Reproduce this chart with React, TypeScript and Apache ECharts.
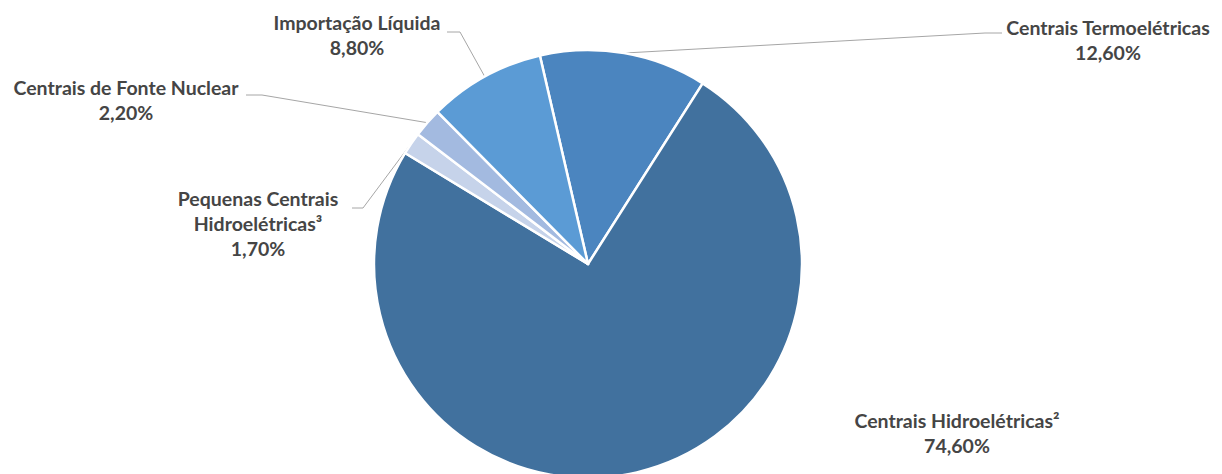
import React, { useEffect, useRef } from "react";
import * as echarts from "echarts";

const categories = [
  "Centrais Termoelétricas",
  "Centrais Hidroelétricas²",
  "Pequenas Centrais\nHidroelétricas³",
  "Centrais de Fonte Nuclear",
  "Importação Líquida",
];
const values = [12.6, 74.6, 1.7, 2.2, 8.8];
const colors = ["#4B85BF", "#41719E", "#C6D3EA", "#A3BAE0", "#5B9BD5"];

// label centres and leader-line end points (label layout only)
const labelPos = [
  [1108, 40],
  [957, 433],
  [258, 223],
  [126, 100],
  [357, 35],
];
const lineEnds: (number[][] | null)[] = [
  [[985, 33], [1002, 33]],
  null,
  [[363, 208], [352, 208]],
  [[262, 95], [246, 95]],
  [[460, 32], [447, 32]],
];

export default function App() {
  const ref = useRef<HTMLDivElement>(null);
  useEffect(() => {
    const chart = echarts.init(ref.current!, undefined, { renderer: "svg" });
    chart.setOption({
      animation: false,
      backgroundColor: "#ffffff",
      series: [
        {
          type: "pie",
          center: [588, 264],
          radius: 214,
          startAngle: 103,
          clockwise: true,
          avoidLabelOverlap: false,
          itemStyle: { borderColor: "#ffffff", borderWidth: 2.5 },
          label: {
            show: true,
            position: "outside",
            fontFamily: "Lato",
            fontSize: 19.5,
            fontWeight: "bold",
            lineHeight: 25,
            color: "#454545",
            formatter: (p: any) =>
              p.name + "\n" + p.value.toFixed(2).replace(".", ",") + "%",
          },
          labelLine: {
            show: true,
            lineStyle: { color: "#A6A6A6", width: 1 },
          },
          labelLayout: (params: any) => {
            const i = params.dataIndex;
            const pos = labelPos[i];
            const out: any = {
              x: pos[0],
              y: pos[1],
              align: "center",
              verticalAlign: "middle",
            };
            const ends = lineEnds[i];
            if (ends && params.labelLinePoints) {
              out.labelLinePoints = [params.labelLinePoints[0], ends[0], ends[1]];
            }
            return out;
          },
          data: categories.map((c, i) => ({
            name: c,
            value: values[i],
            itemStyle: { color: colors[i] },
            labelLine: { show: lineEnds[i] !== null },
          })),
        },
      ],
    });
    return () => chart.dispose();
  }, []);
  return (
    <div
      ref={ref}
      style={{ position: "absolute", left: 0, top: 0, width: 1222, height: 474 }}
    />
  );
}
